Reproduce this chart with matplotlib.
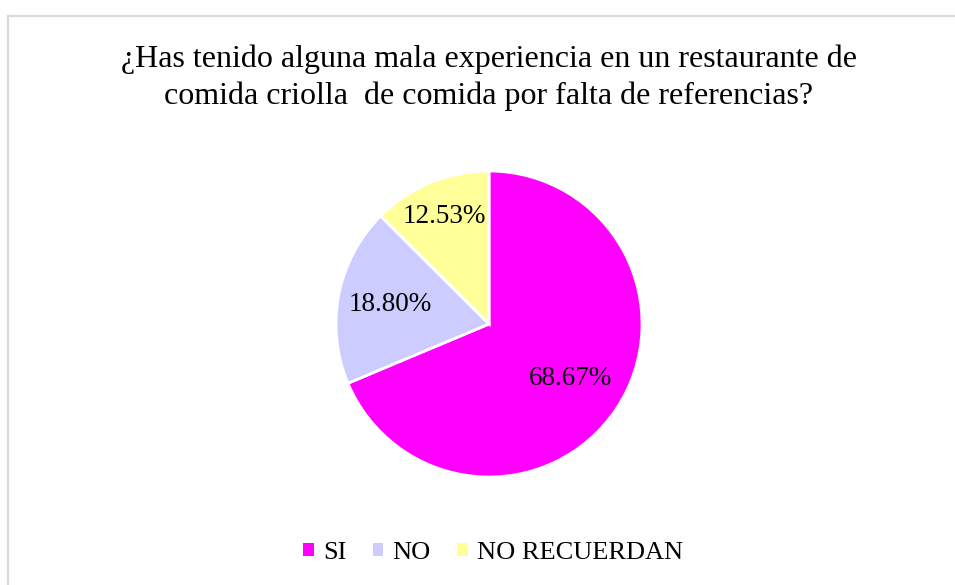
'''Pie chart: mala experiencia en restaurante de comida criolla'''
import matplotlib
matplotlib.use('Agg')
import matplotlib.pyplot as plt
from matplotlib.lines import Line2D
from matplotlib.patches import Patch
import numpy as np

categories = ['SI', 'NO', 'NO RECUERDAN']
values = [68.67, 18.80, 12.53]
colors = ['#FF00FF', '#CCCCFF', '#FFFF99']
label_dist = [0.64, 0.66, 0.76]

TITLE = ('¿Has tenido alguna mala experiencia en un restaurante de\n'
         'comida criolla  de comida por falta de referencias?')

plt.rcParams['font.family'] = ['Liberation Serif', 'DejaVu Serif']

W, H = 955, 585
fig = plt.figure(figsize=(W / 100, H / 100), dpi=100)
fig.patch.set_facecolor('white')

# grey frame (left and top edges visible)
border = '#D9D9D9'
fig.add_artist(Line2D([8 / W, 8 / W], [0, 1 - 16 / H], color=border, lw=1.6))
fig.add_artist(Line2D([8 / W, 1], [1 - 16 / H, 1 - 16 / H], color=border, lw=1.6))

# pie
cx, cy, r = 489, 324, 153
ax = fig.add_axes([(cx - r) / W, (H - cy - r) / H, 2 * r / W, 2 * r / H])
wedges, texts, autotexts = ax.pie(
    values, colors=colors, startangle=90, counterclock=False,
    autopct='%.2f%%', pctdistance=0.65,
    wedgeprops={'edgecolor': 'white', 'linewidth': 2},
    textprops={'fontsize': 19.5, 'color': 'black'})
for w, t, d in zip(wedges, autotexts, label_dist):
    ang = np.deg2rad((w.theta1 + w.theta2) / 2)
    t.set_position((d * np.cos(ang), d * np.sin(ang)))
ax.set_xlim(-1, 1)
ax.set_ylim(-1, 1)
ax.set_aspect('equal')
ax.axis('off')

fig.text(489 / W, 1 - 78 / H, TITLE, ha='center', va='center',
         fontsize=23, linespacing=1.35)

handles = [Patch(facecolor=c, edgecolor='none') for c in colors]
fig.legend(handles, categories, loc='center', bbox_to_anchor=(493 / W, 1 - 553 / H),
           ncol=3, frameon=False, fontsize=19, handlelength=0.4, handleheight=0.4,
           handletextpad=0.35, columnspacing=1.0)

fig.savefig('out.png', dpi=100, facecolor='white')
